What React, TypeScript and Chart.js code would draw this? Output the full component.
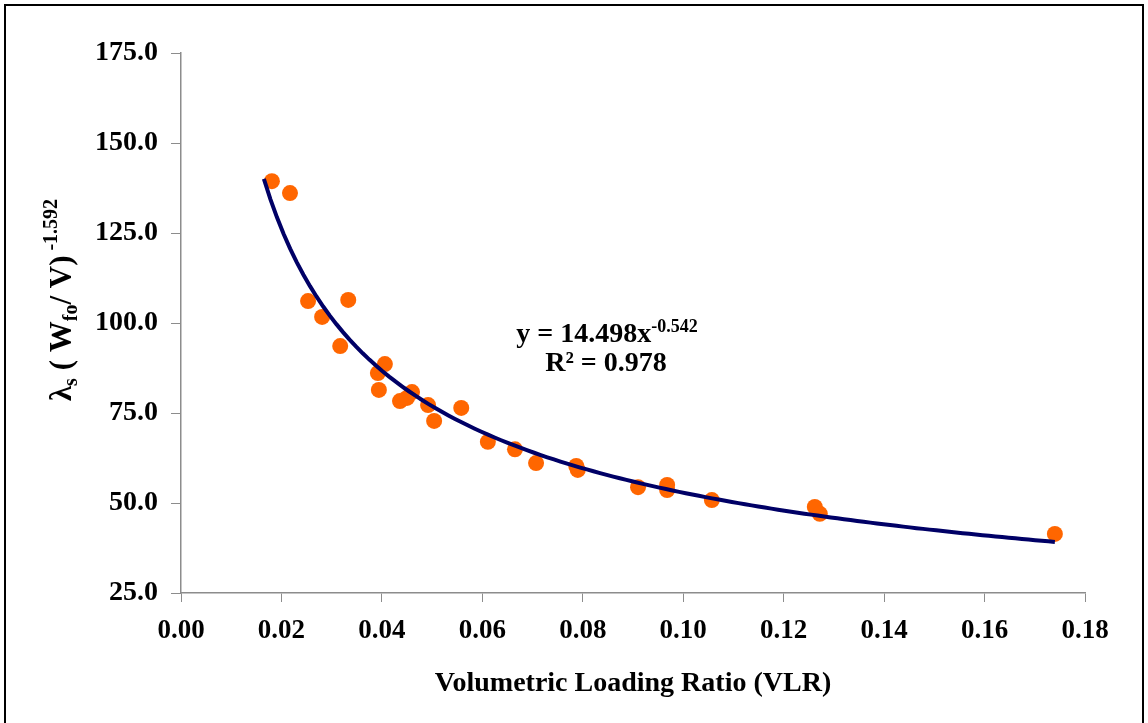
import React, { useEffect, useRef } from "react";
import { Chart, registerables } from "chart.js";

Chart.register(...registerables);

// ---- Data ----
const vlr = [
  0.0181, 0.0217, 0.0253, 0.0281, 0.0317, 0.0333, 0.0392, 0.0394, 0.0406,
  0.0436, 0.045, 0.046, 0.0492, 0.0504, 0.0558, 0.0611, 0.0665, 0.0707,
  0.0787, 0.079, 0.091, 0.0968, 0.0968, 0.1057, 0.1262, 0.1272, 0.174,
];
const lambdaVals = [
  139.4, 136.1, 106.1, 101.7, 93.6, 106.4, 86.1, 81.4, 88.6,
  78.3, 79.2, 80.8, 77.2, 72.8, 76.4, 67.0, 64.9, 61.1,
  60.3, 59.2, 54.4, 55.0, 53.6, 50.8, 48.9, 47.0, 41.4,
];
const xTicks = [0, 0.02, 0.04, 0.06, 0.08, 0.1, 0.12, 0.14, 0.16, 0.18];
const yTicks = [25, 50, 75, 100, 125, 150, 175];
const trendRange = [0.0165, 0.174];
const equationText = "y = 14.498x";
const equationExp = "-0.542";
const r2Text = "R² = 0.978";
const xTitle = "Volumetric Loading Ratio (VLR)";

// Power trendline fitted to the data (least squares on ln-ln, as a spreadsheet does)
function powerFit(xs: number[], ys: number[]) {
  const n = xs.length;
  let sx = 0, sy = 0, sxx = 0, sxy = 0;
  for (let i = 0; i < n; i++) {
    const lx = Math.log(xs[i]);
    const ly = Math.log(ys[i]);
    sx += lx; sy += ly; sxx += lx * lx; sxy += lx * ly;
  }
  const b = (n * sxy - sx * sy) / (n * sxx - sx * sx);
  const a = Math.exp((sy - b * sx) / n);
  return { a, b };
}

const FONT = "'Liberation Serif', 'Times New Roman', serif";

const overlay = {
  id: "overlay",
  afterDraw(chart: any) {
    const ctx = chart.ctx as CanvasRenderingContext2D;
    const area = chart.chartArea;
    ctx.save();
    ctx.fillStyle = "#000";

    // Equation annotation
    ctx.textBaseline = "alphabetic";
    ctx.textAlign = "left";
    ctx.font = `bold 28px ${FONT}`;
    const w1 = ctx.measureText(equationText).width;
    ctx.font = `bold 18px ${FONT}`;
    const w2 = ctx.measureText(equationExp).width;
    const cx = 607;
    const x0 = cx - (w1 + w2) / 2;
    ctx.font = `bold 28px ${FONT}`;
    ctx.fillText(equationText, x0, 342);
    ctx.font = `bold 18px ${FONT}`;
    ctx.fillText(equationExp, x0 + w1, 332);
    ctx.font = `bold 28px ${FONT}`;
    ctx.textAlign = "center";
    ctx.fillText(r2Text, 606, 371);

    // X axis title
    ctx.textBaseline = "middle";
    ctx.fillText(xTitle, (area.left + area.right) / 2, 684);

    // Y axis title with sub/superscripts
    const parts: [string, number, number][] = [
      ["λ", 31, 0],
      ["s", 20, 6],
      [" ( W", 31, 0],
      ["fo", 20, 6],
      ["/ V)", 31, 0],
      [" -1.592", 20, -14],
    ];
    let total = 0;
    const widths = parts.map(([t, s]) => {
      ctx.font = `bold ${s}px ${FONT}`;
      const w = ctx.measureText(t).width;
      total += w;
      return w;
    });
    ctx.translate(71, 300);
    ctx.rotate(-Math.PI / 2);
    ctx.textAlign = "left";
    ctx.textBaseline = "alphabetic";
    let px = -total / 2;
    parts.forEach(([t, s, dy], i) => {
      ctx.font = `bold ${s}px ${FONT}`;
      ctx.fillText(t, px, dy);
      px += widths[i];
    });
    ctx.restore();
  },
};

export default function App() {
  const ref = useRef<HTMLCanvasElement | null>(null);

  useEffect(() => {
    if (!ref.current) return;
    const { a, b } = powerFit(vlr, lambdaVals);
    const trend: { x: number; y: number }[] = [];
    const steps = 120;
    for (let i = 0; i <= steps; i++) {
      const x = trendRange[0] + ((trendRange[1] - trendRange[0]) * i) / steps;
      trend.push({ x, y: a * Math.pow(x, b) });
    }
    const points = vlr.map((x, i) => ({ x, y: lambdaVals[i] }));

    const chart = new Chart(ref.current, {
      type: "scatter",
      data: {
        datasets: [
          {
            label: "data",
            data: points,
            backgroundColor: "#FF6600",
            borderColor: "#FF6600",
            pointRadius: 8,
            pointHoverRadius: 8,
            borderWidth: 0,
            order: 2,
          },
          {
            label: "trend",
            type: "line",
            data: trend,
            borderColor: "#000066",
            borderWidth: 4,
            pointRadius: 0,
            fill: false,
            tension: 0,
            order: 1,
          } as any,
        ],
      },
      options: {
        animation: false,
        responsive: false,
        maintainAspectRatio: false,
        layout: { padding: { left: 0, top: 53, right: 63, bottom: 0 } },
        plugins: {
          legend: { display: false },
          tooltip: { enabled: false },
          title: { display: false },
        },
        scales: {
          x: {
            type: "linear",
            min: 0,
            max: 0.18,
            afterBuildTicks: (s: any) => {
              s.ticks = xTicks.map((v) => ({ value: v }));
            },
            afterFit: (s: any) => {
              s.height = 130;
            },
            ticks: {
              color: "#000",
              font: { family: FONT, size: 27, weight: "bold" },
              padding: 13,
              maxRotation: 0,
              callback: (v: any) => Number(v).toFixed(2),
            },
            grid: {
              drawOnChartArea: false,
              tickLength: 9,
              color: "#8c8c8c",
            },
            border: { color: "#8c8c8c", width: 1.5 },
          },
          y: {
            type: "linear",
            min: 25,
            max: 175,
            afterBuildTicks: (s: any) => {
              s.ticks = yTicks.map((v) => ({ value: v }));
            },
            afterFit: (s: any) => {
              s.width = 181;
            },
            ticks: {
              color: "#000",
              font: { family: FONT, size: 28, weight: "bold" },
              padding: 13,
              callback: (v: any) => Number(v).toFixed(1),
            },
            grid: {
              drawOnChartArea: false,
              tickLength: 10,
              color: "#8c8c8c",
            },
            border: { color: "#8c8c8c", width: 1.5 },
          },
        },
      },
      plugins: [overlay],
    });
    return () => chart.destroy();
  }, []);

  return (
    <div style={{ position: "absolute", left: 0, top: 0, width: 1148, height: 723, overflow: "hidden", background: "#fff" }}>
      <div
        style={{
          position: "absolute",
          left: 4,
          top: 4,
          width: 1140,
          height: 740,
          border: "2px solid #000",
          boxSizing: "border-box",
        }}
      />
      <canvas ref={ref} width={1148} height={723} style={{ position: "absolute", left: 0, top: 0 }} />
    </div>
  );
}
